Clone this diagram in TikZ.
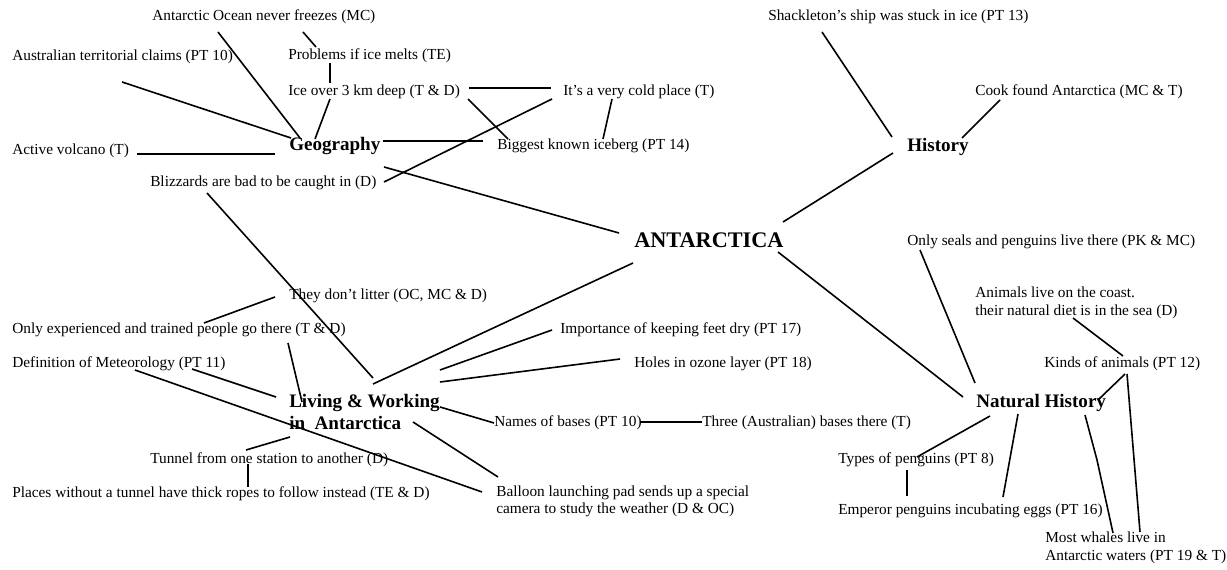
\documentclass[tikz,border=0pt]{standalone}
\usepackage{fontspec}
\setmainfont{Liberation Serif}
\usetikzlibrary{calc}
\begin{document}
\begin{tikzpicture}[x=0.75pt,y=-0.75pt,
  lbl/.style={anchor=west,inner sep=0pt,align=left,font=\fontsize{11.5}{13}\selectfont},
  topic/.style={anchor=west,inner sep=0pt,align=left,font=\fontsize{14.3}{15.8}\selectfont\bfseries},
  hub/.style={anchor=west,inner sep=0pt,font=\fontsize{16.7}{20}\selectfont\bfseries},
  link/.style={line width=1.2pt}]
\useasboundingbox[fill=white] (0,0) rectangle (1227,570);

% centre and main topics
\node[hub]   (ant)    at (634,240) {ANTARCTICA};
\node[topic] (geo)    at (289,146) {Geography};
\node[topic] (hist)   at (907,147) {History};
\node[topic] (nat)    at (976,403) {Natural History};
\node[topic] (living) at (289,412) {Living \& Working\\in\ \ Antarctica};

% geography facts
\node[lbl] (ocean)   at (152,17)  {Antarctic Ocean never freezes (MC)};
\node[lbl] (claims)  at (12,57)   {Australian territorial claims (PT 10)};
\node[lbl] (melts)   at (288,56)  {Problems if ice melts (TE)};
\node[lbl] (ice)     at (288,92)  {Ice over 3 km deep (T \& D)};
\node[lbl] (cold)    at (563,92)  {It's a very cold place (T)};
\node[lbl] (volcano) at (12,151)  {Active volcano (T)};
\node[lbl] (berg)    at (497,146) {Biggest known iceberg (PT 14)};
\node[lbl] (bliz)    at (150,183) {Blizzards are bad to be caught in (D)};

% history facts
\node[lbl] (shack) at (768,17) {Shackleton's ship was stuck in ice (PT 13)};
\node[lbl] (cook)  at (975,92) {Cook found Antarctica (MC \& T)};

% natural history facts
\node[lbl] (seals)   at (907,242)  {Only seals and penguins live there (PK \& MC)};
\node[lbl,font=\fontsize{11.5}{13.1}\selectfont] (coast) at (975,303)
  {Animals live on the coast.\\their natural diet is in the sea (D)};
\node[lbl] (kinds)   at (1044,364) {Kinds of animals (PT 12)};
\node[lbl] (types)   at (838,460)  {Types of penguins (PT 8)};
\node[lbl] (emperor) at (838,511)  {Emperor penguins incubating eggs (PT 16)};
\node[lbl,font=\fontsize{11.5}{13.5}\selectfont] (whales) at (1045,548)
  {Most whales live in\\Antarctic waters (PT 19 \& T)};

% living and working facts
\node[lbl] (litter)  at (289,296) {They don't litter (OC, MC \& D)};
\node[lbl] (exp)     at (12,330)  {Only experienced and trained people go there (T \& D)};
\node[lbl] (meteo)   at (12,364)  {Definition of Meteorology (PT 11)};
\node[lbl] (feet)    at (560,330) {Importance of keeping feet dry (PT 17)};
\node[lbl] (ozone)   at (634,364) {Holes in ozone layer (PT 18)};
\node[lbl] (names)   at (494,423) {Names of bases (PT 10)};
\node[lbl] (three)   at (702,423) {Three (Australian) bases there (T)};
\node[lbl] (tunnel)  at (150,460) {Tunnel from one station to another (D)};
\node[lbl] (places)  at (12,494)  {Places without a tunnel have thick ropes to follow instead (TE \& D)};
\node[lbl,font=\fontsize{11.5}{12.8}\selectfont] (balloon) at (496,501)
  {Balloon launching pad sends up a special\\camera to study the weather (D \& OC)};

% connectors: geography
\draw[link] ($(ocean.west)+(66,15)$)   -- ($(geo.west)+(11,-8)$);
\draw[link] ($(claims.west)+(110,25)$) -- ($(geo.west)+(2,-8)$);
\draw[link] ($(ocean.west)+(151,15)$)  -- ($(melts.west)+(28,-9)$);
\draw[link] ($(melts.west)+(42,7)$)    -- ($(ice.west)+(42,-9)$);
\draw[link] ($(ice.west)+(42,7)$)      -- ($(geo.west)+(26,-7)$);
\draw[link] ($(volcano.west)+(125,3)$) -- ($(geo.west)+(-14,8)$);
\draw[link] ($(geo.west)+(94,-5)$)     -- ($(berg.west)+(-14,-5)$);
\draw[link] ($(ice.west)+(181,-4)$)    -- ($(cold.west)+(-12,-4)$);
\draw[link] ($(ice.west)+(180,7)$)     -- ($(berg.west)+(11,-7)$);
\draw[link] ($(cold.west)+(-11,7)$)    -- ($(bliz.west)+(234,-1)$);
\draw[link] ($(cold.west)+(49,7)$)     -- ($(berg.west)+(106,-7)$);
\draw[link] ($(geo.west)+(95,21)$)     -- ($(ant.west)+(-15,-7)$);

% connectors: history
\draw[link] ($(shack.west)+(54,15)$)   -- ($(hist.west)+(-15,-10)$);
\draw[link] ($(cook.west)+(25,8)$)     -- ($(hist.west)+(55,-9)$);
\draw[link] ($(hist.west)+(-14,6)$)    -- ($(ant.west)+(149,-18)$);

% connectors: living and working
\draw[link] ($(bliz.west)+(57,10)$)    -- ($(living.west)+(84,-34)$);
\draw[link] ($(ant.west)+(-1,23)$)     -- ($(living.west)+(84,-28)$);
\draw[link] ($(litter.west)+(-14,1)$)  -- ($(exp.west)+(192,-7)$);
\draw[link] ($(exp.west)+(276,13)$)    -- ($(living.west)+(13,-10)$);
\draw[link] ($(meteo.west)+(180,5)$)   -- ($(living.west)+(-13,-15)$);
\draw[link] ($(meteo.west)+(123,6)$)   -- ($(balloon.west)+(-14,-9)$);
\draw[link] ($(living.west)+(1,25)$)   -- ($(tunnel.west)+(96,-10)$);
\draw[link] ($(tunnel.west)+(98,4)$)   -- ($(places.west)+(236,-7)$);
\draw[link] ($(living.west)+(124,10)$) -- ($(balloon.west)+(2,-24)$);
\draw[link] ($(living.west)+(151,-5)$) -- ($(names.west)+(0,0)$);
\draw[link] ($(names.west)+(146,-1)$)  -- ($(three.west)+(0,-1)$);
\draw[link] ($(living.west)+(151,-42)$) -- ($(feet.west)+(-8,0)$);
\draw[link] ($(living.west)+(151,-30)$) -- ($(ozone.west)+(-14,-5)$);

% connectors: natural history
\draw[link] ($(ant.west)+(144,12)$)    -- ($(nat.west)+(-13,-6)$);
\draw[link] ($(seals.west)+(13,8)$)    -- ($(nat.west)+(-1,-20)$);
\draw[link] ($(coast.west)+(98,15)$)   -- ($(kinds.west)+(79,-8)$);
\draw[link] ($(kinds.west)+(81,10)$)   -- ($(nat.west)+(122,-3)$);
\draw[link] ($(kinds.west)+(83,10)$)   -- ($(whales.west)+(95,-16)$);
\draw[link] ($(nat.west)+(109,12)$) -- ($(nat.west)+(121,57)$) -- ($(whales.west)+(68,-15)$);
\draw[link] ($(nat.west)+(14,13)$)     -- ($(types.west)+(79,-3)$);
\draw[link] ($(types.west)+(69,10)$)   -- ($(emperor.west)+(69,-15)$);
\draw[link] ($(nat.west)+(42,11)$)     -- ($(emperor.west)+(165,-14)$);
\end{tikzpicture}
\end{document}
